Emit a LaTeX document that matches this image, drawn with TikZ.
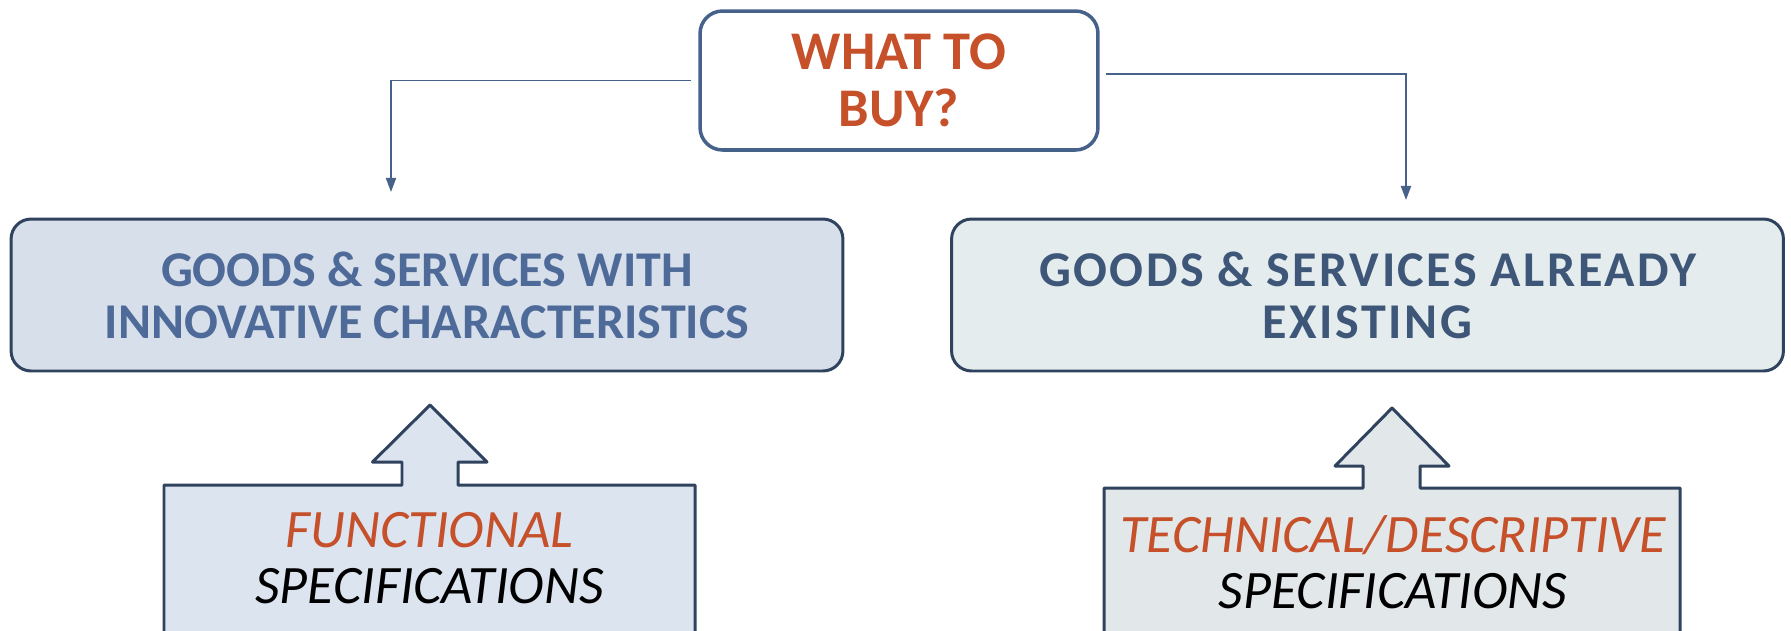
\documentclass[tikz,border=0pt]{standalone}
\usepackage{fontspec}
\setmainfont{Carlito}
\newfontfamily\spacedfont[LetterSpace=5]{Carlito}
\usetikzlibrary{arrows.meta, positioning}
\definecolor{rustred}{RGB}{197, 80, 42}
\definecolor{navyline}{RGB}{47, 66, 94}
\definecolor{steelline}{RGB}{70, 98, 138}
\definecolor{innovblue}{RGB}{78, 106, 152}
\definecolor{existblue}{RGB}{62, 86, 120}
\definecolor{innovfill}{RGB}{215, 223, 234}
\definecolor{existfill}{RGB}{228, 236, 238}
\definecolor{funcfill}{RGB}{220, 228, 240}
\definecolor{techfill}{RGB}{226, 232, 234}

\begin{document}
\begin{tikzpicture}[
    x=0.02cm, y=-0.02cm,
    question/.style={rectangle, draw=steelline, line width=2pt, fill=white, minimum width=7.96cm, minimum height=2.78cm, rounded corners=0.45cm, align=center, text=rustred, font=\fontsize{31}{32.5}\selectfont\bfseries},
    category/.style={rectangle, draw=navyline, line width=1.7pt, minimum width=16.64cm, minimum height=3.04cm, rounded corners=0.4cm, align=center, font=\fontsize{28.5}{29.6}\selectfont\bfseries},
    speclabel/.style={align=center, font=\fontsize{30.8}{31.9}\selectfont\itshape},
    specshape/.style={draw=navyline, line width=1.7pt, line join=round},
    link/.style={-{Triangle[length=8pt, width=5.7pt]}, line width=1.1pt, steelline}
]
\clip (0,0) rectangle (1791,630);

\node[question] (what) at (899,80.5) {WHAT TO\\BUY?};
\node[category, fill=innovfill, text=innovblue] (innov) at (427,295) {GOODS \& SERVICES WITH\\INNOVATIVE CHARACTERISTICS};
\node[category, fill=existfill, text=existblue] (exist) at (1367.5,295) {\spacedfont\bfseries GOODS \& SERVICES ALREADY\\\spacedfont\bfseries EXISTING};

% arrow boxes below the categories
\draw[specshape, fill=funcfill] (164,700) -- (164,485) -- (402,485) -- (402,462) -- (372.5,462) -- (430,405) -- (487,462) -- (458,462) -- (458,485) -- (695,485) -- (695,700);
\draw[specshape, fill=techfill] (1104,700) -- (1104,488) -- (1363,488) -- (1363,466) -- (1335,466) -- (1392,408) -- (1449,466) -- (1420,466) -- (1420,488) -- (1680,488) -- (1680,700);

\node[speclabel] (func) at (429.5,558.5) {\textcolor{rustred}{FUNCTIONAL}\\SPECIFICATIONS};
\node[speclabel] (tech) at (1393,562.5) {\textcolor{rustred}{TECHNICAL/DESCRIPTIVE}\\SPECIFICATIONS};

\coordinate (innovend) at (391,192);
\coordinate (existend) at (1406,200);
\draw[link] ([shift={(-7,0)}]what.west) -| (innovend);
\draw[link] ([shift={(6,-6.5)}]what.east) -| (existend);

\end{tikzpicture}
\end{document}
